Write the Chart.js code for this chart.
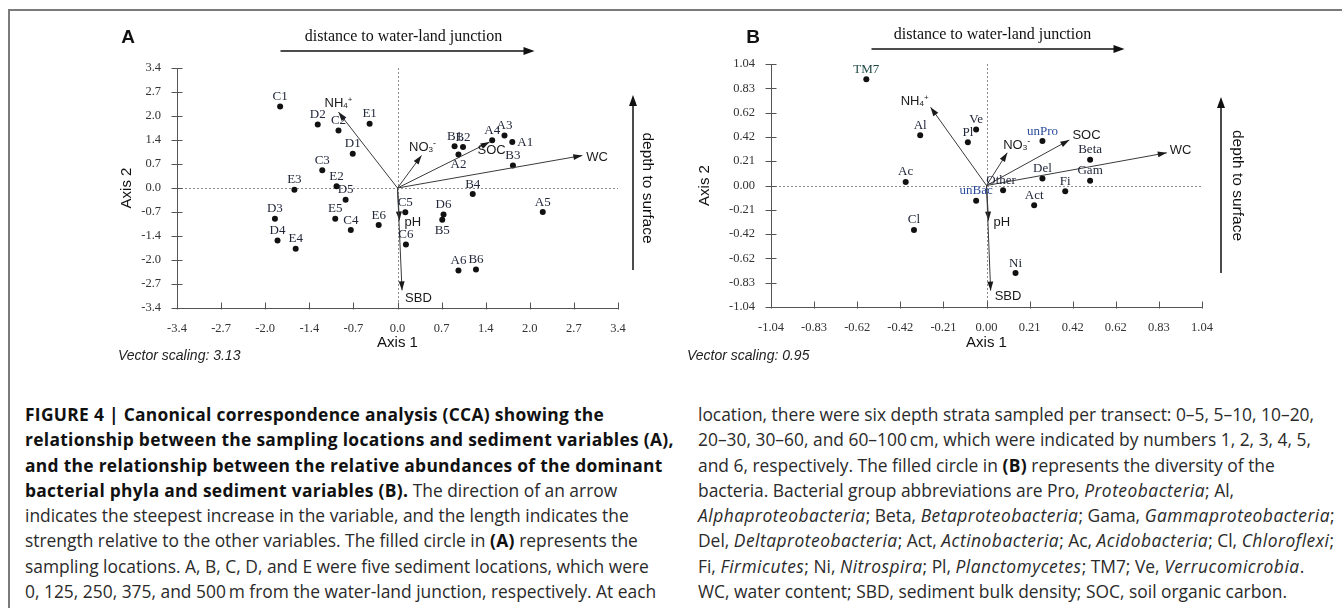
<!DOCTYPE html>
<html>
<head>
<meta charset="utf-8">
<script src="https://cdn.jsdelivr.net/npm/chart.js@4.4.1/dist/chart.umd.min.js"></script>
<style>
  body { margin: 0; width: 1342px; height: 608px; overflow: hidden; background: #fff; position: relative; }
  #frame { position: absolute; left: 8px; top: 9px; width: 1340px; height: 610px; border-top: 2px solid #7b7b7b; border-left: 2px solid #7b7b7b; }
  canvas { position: absolute; top: 0; }
  #chartA { left: 0; }
  #chartB { left: 671px; }
  .vs { position: absolute; top: 347px; font: italic 14px "Liberation Sans", Arial, sans-serif; color: #222; }
  .cap { position: absolute; top: 402px; font-family: "Open Sans", "Liberation Sans", sans-serif; font-size: 17.4px; line-height: 25.3px; color: #2a2a2a; white-space: nowrap; }
  .cap b { color: #111; font-weight: 700; letter-spacing: 0.3px; }
  .cap i { letter-spacing: 0.5px; }
</style>
</head>
<body>
<div id="frame"></div>
<canvas id="chartA" width="671" height="370"></canvas>
<canvas id="chartB" width="671" height="370"></canvas>
<div class="vs" style="left:118px">Vector scaling: 3.13</div>
<div class="vs" style="left:687px">Vector scaling: 0.95</div>

<div class="cap" style="left:25px">
<b>FIGURE 4 | Canonical correspondence analysis (CCA) showing the</b><br>
<b>relationship between the sampling locations and sediment variables (A),</b><br>
<b>and the relationship between the relative abundances of the dominant</b><br>
<b>bacterial phyla and sediment variables (B).</b> The direction of an arrow<br>
indicates the steepest increase in the variable, and the length indicates the<br>
strength relative to the other variables. The filled circle in <b>(A)</b> represents the<br>
sampling locations. A, B, C, D, and E were five sediment locations, which were<br>
0, 125, 250, 375, and 500&#8201;m from the water-land junction, respectively. At each
</div>
<div class="cap" style="left:698px">
location, there were six depth strata sampled per transect: 0–5, 5–10, 10–20,<br>
20–30, 30–60, and 60–100&#8201;cm, which were indicated by numbers 1, 2, 3, 4, 5,<br>
and 6, respectively. The filled circle in <b>(B)</b> represents the diversity of the<br>
bacteria. Bacterial group abbreviations are Pro, <i>Proteobacteria</i>; Al,<br>
<i>Alphaproteobacteria</i>; Beta, <i>Betaproteobacteria</i>; Gama, <i>Gammaproteobacteria</i>;<br>
Del, <i>Deltaproteobacteria</i>; Act, <i>Actinobacteria</i>; Ac, <i>Acidobacteria</i>; Cl, <i>Chloroflexi</i>;<br>
Fi, <i>Firmicutes</i>; Ni, <i>Nitrospira</i>; Pl, <i>Planctomycetes</i>; TM7; Ve, <i>Verrucomicrobia</i>.<br>
WC, water content; SBD, sediment bulk density; SOC, soil organic carbon.
</div>

<script>
// tick labels (evenly spaced between min and max)
const tickLabelsA = ['-3.4', '-2.7', '-2.0', '-1.4', '-0.7', '0.0', '0.7', '1.4', '2.0', '2.7', '3.4'];
const tickLabelsB = ['-1.04', '-0.83', '-0.62', '-0.42', '-0.21', '0.00', '0.21', '0.42', '0.62', '0.83', '1.04'];

// panel A: sampling locations
const siteNames = ['A1', 'A2', 'A3', 'A4', 'A5', 'A6', 'B1', 'B2', 'B3', 'B4', 'B5', 'B6',
    'C1', 'C2', 'C3', 'C4', 'C5', 'C6', 'D1', 'D2', 'D3', 'D4', 'D5', 'D6',
    'E1', 'E2', 'E3', 'E4', 'E5', 'E6'];
const siteAxis1 = [1.77, 0.94, 1.65, 1.46, 2.24, 0.94, 0.88, 1.01, 1.78, 1.16, 0.69, 1.21,
    -1.81, -0.91, -1.16, -0.72, 0.12, 0.13, -0.69, -1.23, -1.89, -1.85, -0.80, 0.71,
    -0.43, -0.94, -1.59, -1.57, -0.96, -0.29];
const siteAxis2 = [1.30, 0.95, 1.49, 1.35, -0.68, -2.34, 1.18, 1.16, 0.64, -0.17, -0.90, -2.31,
    2.31, 1.63, 0.50, -1.19, -0.69, -1.60, 0.97, 1.80, -0.87, -1.49, -0.33, -0.75,
    1.82, 0.05, -0.05, -1.72, -0.87, -1.05];

// panel A: sediment variable vectors
const envNamesA = ['NH4+', 'NO3-', 'SOC', 'WC', 'pH', 'SBD'];
const envAxis1A = [-0.91, 0.37, 1.42, 2.85, 0.03, 0.07];
const envAxis2A = [2.15, 0.92, 1.30, 0.92, -0.92, -2.90];

// panel B: bacterial groups
const phylumNames = ['TM7', 'Al', 'Pl', 'Ve', 'unPro', 'Beta', 'Del', 'Gam', 'Ac', 'Other',
    'Fi', 'unBac', 'Act', 'Cl', 'Ni'];
const phylumAxis1 = [-0.58, -0.32, -0.09, -0.05, 0.27, 0.50, 0.27, 0.50, -0.39, 0.08,
    0.38, -0.05, 0.23, -0.35, 0.14];
const phylumAxis2 = [0.91, 0.43, 0.37, 0.48, 0.38, 0.22, 0.06, 0.04, 0.03, -0.04,
    -0.05, -0.13, -0.17, -0.38, -0.75];

// panel B: sediment variable vectors
const envNamesB = ['NH4+', 'NO3-', 'SOC', 'WC', 'pH', 'SBD'];
const envAxis1B = [-0.27, 0.10, 0.40, 0.87, 0.01, 0.02];
const envAxis2B = [0.67, 0.28, 0.39, 0.28, -0.30, -0.90];

// label placement (style only)
const ABOVE = {dx: 0, dy: -4, align: 'center', base: 'bottom'};
const placeA = {
    A1: {dx: 5, dy: 0, align: 'left', base: 'middle'},
    A2: {dx: 0, dy: 4, align: 'center', base: 'top'},
    B5: {dx: 0, dy: 4, align: 'center', base: 'top'}
};
const envPlaceA = {
    'NH4+': {dx: 0, dy: -3, align: 'center', base: 'bottom'},
    'NO3-': {dx: 1, dy: -2, align: 'center', base: 'bottom'},
    'SOC': {dx: 2, dy: 2, align: 'center', base: 'top'},
    'WC': {dx: 4, dy: 1, align: 'left', base: 'middle'},
    'pH': {dx: 5, dy: 1, align: 'left', base: 'middle'},
    'SBD': {dx: 3, dy: 2, align: 'left', base: 'top'}
};
const placeB = {
    Other: {dx: -2, dy: -4, align: 'center', base: 'bottom'}
};
const envPlaceB = {
    'NH4+': {dx: -2, dy: 0, align: 'right', base: 'bottom'},
    'NO3-': {dx: -4, dy: -1, align: 'left', base: 'bottom'},
    'SOC': {dx: 3, dy: -5, align: 'left', base: 'middle'},
    'WC': {dx: 3, dy: -3, align: 'left', base: 'middle'},
    'pH': {dx: 5, dy: 1, align: 'left', base: 'middle'},
    'SBD': {dx: 4, dy: 0, align: 'left', base: 'top'}
};
const labelColors = {unPro: '#2b4a9c', unBac: '#2b4a9c', TM7: '#1f4a44'};

const SERIF = '"Liberation Serif", "Times New Roman", serif';
const SANS = '"Liberation Sans", Arial, sans-serif';

function richParts(name) {
    if (name === 'NH4+') return [['NH', 1, 0], ['4', 0.65, 1], ['+', 0.65, -5]];
    if (name === 'NO3-') return [['NO', 1, 0], ['3', 0.65, 1], ['-', 0.75, -5]];
    return [[name, 1, 0]];
}

function drawLabel(ctx, name, x, y, p, size, family, color) {
    const parts = richParts(name);
    let w = 0;
    parts.forEach(q => { ctx.font = Math.round(size * q[1]) + 'px ' + family; w += ctx.measureText(q[0]).width; });
    x += p.dx; y += p.dy;
    let sx = p.align === 'center' ? x - w / 2 : p.align === 'right' ? x - w : x;
    let by = p.base === 'bottom' ? y - size * 0.2 : p.base === 'top' ? y + size * 0.78 : y + size * 0.34;
    ctx.fillStyle = color;
    ctx.textAlign = 'left';
    ctx.textBaseline = 'alphabetic';
    parts.forEach(q => {
        ctx.font = Math.round(size * q[1]) + 'px ' + family;
        ctx.fillText(q[0], sx, by + q[2]);
        sx += ctx.measureText(q[0]).width;
    });
}

function arrowHead(ctx, x1, y1, x2, y2, len, half) {
    const a = Math.atan2(y2 - y1, x2 - x1);
    const bx = x2 - len * Math.cos(a), by = y2 - len * Math.sin(a);
    ctx.beginPath();
    ctx.moveTo(x2, y2);
    ctx.lineTo(bx + half * Math.sin(a), by - half * Math.cos(a));
    ctx.lineTo(bx - half * Math.sin(a), by + half * Math.cos(a));
    ctx.closePath();
    ctx.fill();
}

const panelPlugin = {
    id: 'panel',
    beforeDatasetsDraw(chart) {
        const {ctx, chartArea: a, scales: {x, y}} = chart;
        const x0 = Math.round(x.getPixelForValue(0)) + 0.5;
        const y0 = Math.round(y.getPixelForValue(0)) + 0.5;
        ctx.save();
        // zero lines
        ctx.strokeStyle = '#8c8c8c';
        ctx.lineWidth = 1;
        ctx.setLineDash([2, 2]);
        ctx.beginPath();
        ctx.moveTo(x0, a.top); ctx.lineTo(x0, a.bottom);
        ctx.moveTo(a.left, y0); ctx.lineTo(a.right, y0);
        ctx.stroke();
        ctx.setLineDash([]);
        // axes and ticks
        ctx.strokeStyle = '#555';
        const L = Math.round(a.left) + 0.5, B = Math.round(a.bottom) + 0.5;
        ctx.beginPath();
        ctx.moveTo(L, a.top); ctx.lineTo(L, B); ctx.lineTo(a.right, B);
        y.ticks.forEach(t => {
            const py = Math.round(y.getPixelForValue(t.value)) + 0.5;
            ctx.moveTo(L - 6, py); ctx.lineTo(L + 5, py);
        });
        x.ticks.forEach(t => {
            const px = Math.round(x.getPixelForValue(t.value)) + 0.5;
            ctx.moveTo(px, B - 6); ctx.lineTo(px, B + 1);
        });
        ctx.stroke();
        ctx.restore();
    },
    afterDatasetsDraw(chart, args, opts) {
        const {ctx, scales: {x, y}} = chart;
        const ox = x.getPixelForValue(0), oy = y.getPixelForValue(0);
        ctx.save();
        // vectors
        const vec = chart.getDatasetMeta(1);
        ctx.strokeStyle = '#3a3a3a';
        ctx.fillStyle = '#1a1a1a';
        ctx.lineWidth = 1;
        vec.data.forEach((el, i) => {
            ctx.beginPath();
            ctx.moveTo(ox, oy); ctx.lineTo(el.x, el.y);
            ctx.stroke();
            arrowHead(ctx, ox, oy, el.x, el.y, 9, 3);
            const name = opts.envNames[i];
            drawLabel(ctx, name, el.x, el.y, opts.envPlace[name], 12.5, SANS, '#1a1a1a');
        });
        // point labels
        const pts = chart.getDatasetMeta(0);
        pts.data.forEach((el, i) => {
            const name = opts.names[i];
            drawLabel(ctx, name, el.x, el.y, opts.place[name] || ABOVE, 12.5, SERIF, labelColors[name] || '#22283a');
        });
        ctx.restore();
    },
    afterDraw(chart, args, opts) {
        const {ctx, chartArea: a} = chart;
        const d = opts.decor;
        const cx = (a.left + a.right) / 2, cy = (a.top + a.bottom) / 2;
        ctx.save();
        ctx.fillStyle = '#111';
        ctx.strokeStyle = '#111';
        ctx.textAlign = 'center';
        ctx.textBaseline = 'middle';
        // panel letter
        ctx.font = 'bold 19px ' + SANS;
        ctx.fillText(d.letter, a.left + d.letterX, a.top + d.letterY);
        // heading with arrow
        ctx.font = '16px ' + SERIF;
        ctx.fillText('distance to water-land junction', cx + d.headX, a.top + d.headY);
        ctx.lineWidth = 1.5;
        ctx.beginPath();
        ctx.moveTo(cx + d.arrowFrom, a.top + d.arrowY);
        ctx.lineTo(cx + d.arrowTo - 8, a.top + d.arrowY);
        ctx.stroke();
        arrowHead(ctx, cx, a.top + d.arrowY, cx + d.arrowTo, a.top + d.arrowY, 11, 4);
        // side arrow
        ctx.beginPath();
        ctx.moveTo(a.right + d.sideX, a.top + d.sideBottom);
        ctx.lineTo(a.right + d.sideX, a.top + d.sideTop + 8);
        ctx.stroke();
        arrowHead(ctx, a.right + d.sideX, cy, a.right + d.sideX, a.top + d.sideTop, 11, 4);
        ctx.font = '15.5px ' + SANS;
        ctx.save();
        ctx.translate(a.right + d.sideTextX, cy);
        ctx.rotate(Math.PI / 2);
        ctx.fillText('depth to surface', 0, 0);
        ctx.restore();
        // axis titles
        ctx.font = '15px ' + SANS;
        ctx.fillText('Axis 1', cx, a.bottom + d.axis1Y);
        ctx.save();
        ctx.translate(a.left + d.axis2X, cy);
        ctx.rotate(-Math.PI / 2);
        ctx.fillText('Axis 2', 0, 0);
        ctx.restore();
        ctx.restore();
    }
};

function makeChart(id, cfg) {
    const points = cfg.xs.map((v, i) => ({x: v, y: cfg.ys[i]}));
    const vectors = cfg.ex.map((v, i) => ({x: v, y: cfg.ey[i]}));
    const evenTicks = (lo, hi, labels) => (s) => {
        s.ticks = labels.map((_, i) => ({value: lo + i * (hi - lo) / (labels.length - 1)}));
    };
    const tickFont = {family: SERIF, size: 12.5};
    return new Chart(document.getElementById(id), {
        type: 'scatter',
        data: {
            datasets: [
                {data: points, pointRadius: 3, pointBackgroundColor: '#111', pointBorderWidth: 0},
                {data: vectors, pointRadius: 0}
            ]
        },
        options: {
            responsive: false,
            animation: false,
            devicePixelRatio: 1,
            layout: {padding: cfg.padding},
            scales: {
                x: {
                    min: -cfg.lim, max: cfg.lim,
                    afterBuildTicks: evenTicks(-cfg.lim, cfg.lim, cfg.tickLabels),
                    afterFit: (s) => { s.height = cfg.xHeight; },
                    ticks: {callback: (v, i) => cfg.tickLabels[i], font: tickFont, color: '#333', padding: 5, maxRotation: 0, autoSkip: false},
                    grid: {display: false},
                    border: {display: false}
                },
                y: {
                    min: -cfg.lim, max: cfg.lim,
                    afterBuildTicks: evenTicks(-cfg.lim, cfg.lim, cfg.tickLabels),
                    afterFit: (s) => { s.width = cfg.yWidth; },
                    ticks: {callback: (v, i) => cfg.tickLabels[i], font: tickFont, color: '#333', padding: 8, autoSkip: false},
                    grid: {display: false},
                    border: {display: false}
                }
            },
            plugins: {
                legend: {display: false},
                tooltip: {enabled: false},
                panel: {
                    names: cfg.names, envNames: cfg.envNames,
                    place: cfg.place, envPlace: cfg.envPlace, decor: cfg.decor
                }
            }
        },
        plugins: [panelPlugin]
    });
}

makeChart('chartA', {
    names: siteNames, xs: siteAxis1, ys: siteAxis2,
    envNames: envNamesA, ex: envAxis1A, ey: envAxis2A,
    lim: 3.4, tickLabels: tickLabelsA,
    place: placeA, envPlace: envPlaceA,
    padding: {left: 0, top: 68, right: 53, bottom: 0},
    yWidth: 177, xHeight: 62,
    decor: {letter: 'A', letterX: -49, letterY: -30, headX: 6, headY: -31, arrowY: -17,
        arrowFrom: -117, arrowTo: 137, sideX: 15, sideTop: 27, sideBottom: 202, sideTextX: 29,
        axis1Y: 35, axis2X: -50}
});

makeChart('chartB', {
    names: phylumNames, xs: phylumAxis1, ys: phylumAxis2,
    envNames: envNamesB, ex: envAxis1B, ey: envAxis2B,
    lim: 1.04, tickLabels: tickLabelsB,
    place: placeB, envPlace: envPlaceB,
    padding: {left: 0, top: 64, right: 140, bottom: 0},
    yWidth: 100, xHeight: 63,
    decor: {letter: 'B', letterX: -18, letterY: -26, headX: 6, headY: -29, arrowY: -15,
        arrowFrom: -115, arrowTo: 138, sideX: 19, sideTop: 33, sideBottom: 209, sideTextX: 35,
        axis1Y: 36, axis2X: -66}
});
</script>
</body>
</html>
